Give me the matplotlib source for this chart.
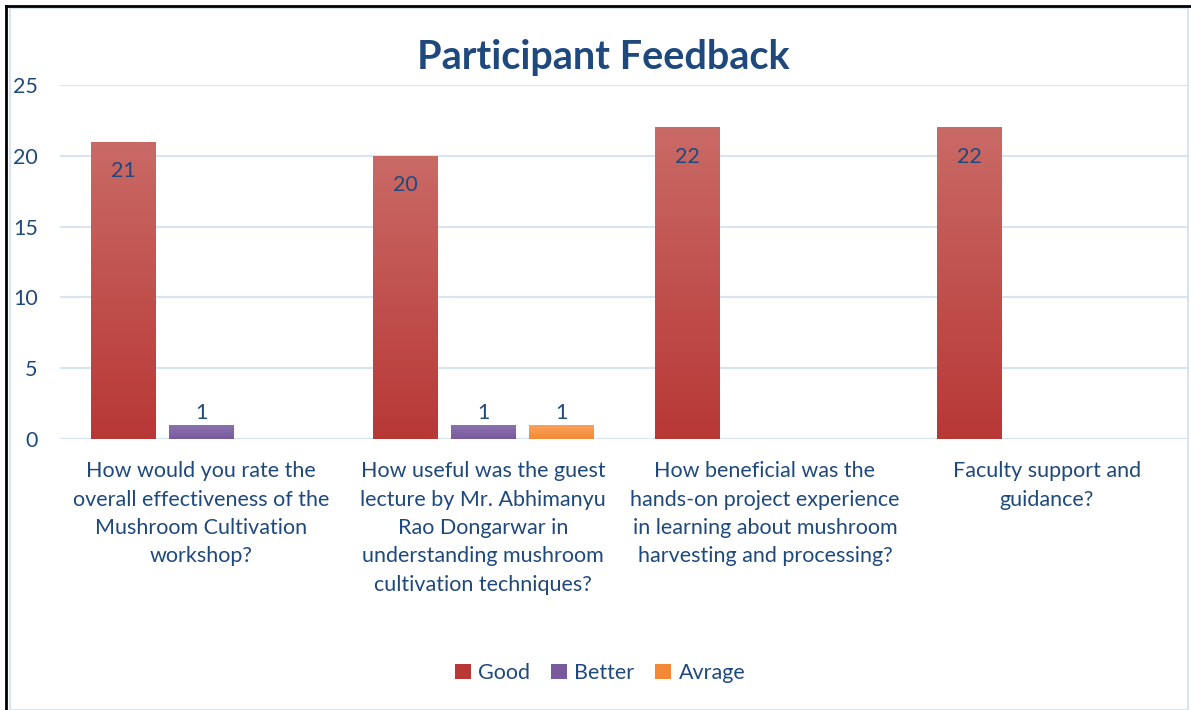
import numpy as np
import matplotlib
matplotlib.use("Agg")
import matplotlib.pyplot as plt
from matplotlib.colors import LinearSegmentedColormap
from matplotlib.patches import Rectangle

plt.rcParams['font.family'] = ['Lato', 'DejaVu Sans']

categories = [
    "How would you rate the\noverall effectiveness of the\nMushroom Cultivation\nworkshop?",
    "How useful was the guest\nlecture by Mr. Abhimanyu\nRao Dongarwar in\nunderstanding mushroom\ncultivation techniques?",
    "How beneficial was the\nhands-on project experience\nin learning about mushroom\nharvesting and processing?",
    "Faculty support and\nguidance?",
]
series_names = ["Good", "Better", "Avrage"]
good = [21, 20, 22, 22]
better = [1, 1, np.nan, np.nan]
avrage = [np.nan, 1, np.nan, np.nan]

text_col = "#1F497D"
grid_col = "#D9E4F2"
# (bottom colour, top colour) for each series gradient
grads = [("#B83836", "#C96A66"), ("#795A9D", "#8C74B0"), ("#F38A33", "#F9A45F")]

fig = plt.figure(figsize=(11.91, 7.10), dpi=100)
ax = fig.add_axes([60 / 1191, 1 - 439 / 710, 1128 / 1191, 354 / 710])

x = np.arange(len(categories))
width = 0.227
offsets = [-0.277, 0.0, 0.277]

for s, (vals, off, (c0, c1)) in enumerate(zip([good, better, avrage], offsets, grads)):
    cmap = LinearSegmentedColormap.from_list(f"g{s}", [c0, c1])
    for xi, v in zip(x, vals):
        if v is None or np.isnan(v):
            continue
        left = xi + off - width / 2
        bar = Rectangle((left, 0), width, v, facecolor="none", edgecolor="none")
        ax.add_patch(bar)
        grad = np.linspace(0, 1, 256).reshape(-1, 1)
        im = ax.imshow(grad, cmap=cmap, origin="lower", aspect="auto",
                       extent=(left, left + width, 0, v), zorder=2)
        im.set_clip_path(bar)
        if s == 0:
            ax.text(xi + off, v - 2.05, f"{v:g}", ha="center", va="center",
                    fontsize=15.5, color=text_col, zorder=3)
        else:
            ax.text(xi + off, v + 0.1, f"{v:g}", ha="center", va="bottom",
                    fontsize=15.5, color=text_col, zorder=3)

ax.set_xlim(-0.5, len(categories) - 0.5)
ax.set_ylim(0, 25)
ax.set_yticks(range(0, 26, 5))
ax.set_xticks(x)
ax.set_xticklabels(categories, fontsize=15.5, color=text_col, linespacing=1.52)
ax.tick_params(axis="y", length=0, pad=16, labelsize=15.5, labelcolor=text_col)
ax.tick_params(axis="x", length=0, pad=16)
ax.grid(axis="y", color=grid_col, linewidth=1.5, zorder=0)
ax.set_axisbelow(True)
for sp in ax.spines.values():
    sp.set_visible(False)

fig.text(603 / 1191, 1 - 57 / 710, "Participant Feedback", ha="center", va="center",
         fontsize=28.5, fontweight="bold", color=text_col)

handles = [Rectangle((0, 0), 1, 1, facecolor=c[0]) for c in grads]
fig.legend(handles, series_names, loc="center", bbox_to_anchor=(600 / 1191, 1 - 673 / 710),
           ncol=3, frameon=False, fontsize=15.5, labelcolor=text_col,
           handlelength=0.75, handleheight=0.75, handletextpad=0.35, columnspacing=0.95)

# chart borders
fig.patches.append(Rectangle((10 / 1191, 0), 1178 / 1191, 1 - 8 / 710, transform=fig.transFigure,
                             fill=False, edgecolor=grid_col, linewidth=1.5))
fig.lines.append(plt.Line2D([6 / 1191, 6 / 1191], [0, 1 - 6 / 710], transform=fig.transFigure,
                            color="black", linewidth=2))
fig.lines.append(plt.Line2D([6 / 1191, 1], [1 - 6 / 710, 1 - 6 / 710], transform=fig.transFigure,
                            color="black", linewidth=2))

fig.savefig("out.png", dpi=100)
